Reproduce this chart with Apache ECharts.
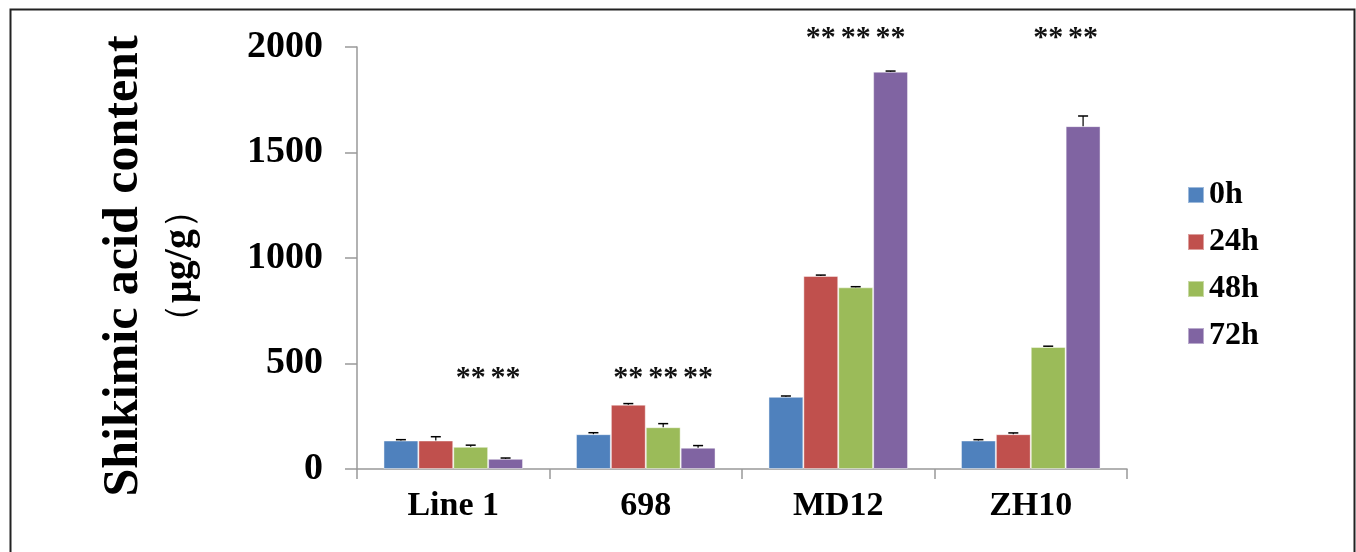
<!DOCTYPE html>
<html>
<head>
<meta charset="utf-8">
<script src="https://cdn.jsdelivr.net/npm/echarts@6/dist/echarts.min.js"></script>
<style>
html,body{margin:0;padding:0;background:#fff;}
#chart{width:1356px;height:552px;}
</style>
</head>
<body>
<div id="chart"></div>
<script>
// ---- data ----
const categories = ['Line 1', '698', 'MD12', 'ZH10'];
const seriesNames = ['0h', '24h', '48h', '72h'];
const values0h  = [135, 165, 342, 135];
const values24h = [135, 305, 915, 165];
const values48h = [105, 198, 861, 578];
const values72h = [48, 101, 1883, 1625];
const err0h  = [4, 7, 4, 4];
const err24h = [18, 5, 4, 6];
const err48h = [8, 17, 3, 4];
const err72h = [4, 10, 3, 48];
const sig0h  = ['', '', '', ''];
const sig24h = ['', '**', '**', ''];
const sig48h = ['**', '**', '**', '**'];
const sig72h = ['**', '**', '**', '**'];
const starLevel = [428, 428, 2040, 2040];
const yTicks = [0, 500, 1000, 1500, 2000];

const colors = ['#4F81BD', '#C0504D', '#9BBB59', '#8064A2'];
const allValues = [values0h, values24h, values48h, values72h];
const allErr = [err0h, err24h, err48h, err72h];
const allSig = [sig0h, sig24h, sig48h, sig72h];
const BAR_GAP = '0%', CAT_GAP = '27.5%';
const FONT = '"Liberation Serif", "Times New Roman", serif';

const errData = [], starData = [];
for (let s = 0; s < 4; s++) {
  for (let c = 0; c < categories.length; c++) {
    errData.push([c, s, allValues[s][c], allErr[s][c]]);
    if (allSig[s][c]) starData.push([c, s, starLevel[c], allSig[s][c]]);
  }
}

function layoutOf(api) {
  return api.barLayout({ barGap: BAR_GAP, barCategoryGap: CAT_GAP, count: 4 });
}

const chart = echarts.init(document.getElementById('chart'));
const barSeries = seriesNames.map((n, i) => ({
  name: n, type: 'bar', data: allValues[i],
  barGap: BAR_GAP, barCategoryGap: CAT_GAP,
  itemStyle: { color: colors[i], borderColor: 'rgba(255,255,255,0.45)', borderWidth: 1 },
  emphasis: { disabled: true }
}));

chart.setOption({
  animation: false,
  backgroundColor: '#fff',
  color: colors,
  graphic: [{
    type: 'rect', left: 8, top: 7, silent: true,
    shape: { width: 1344, height: 600 },
    style: { fill: 'none', stroke: '#222', lineWidth: 2 }
  }],
  grid: { left: 357, right: 229, top: 47, bottom: 83 },
  legend: {
    orient: 'vertical', left: 1182, top: 174,
    itemWidth: 16, itemHeight: 16, itemGap: 15, icon: 'rect',
    data: seriesNames,
    textStyle: { fontFamily: FONT, fontWeight: 'bold', fontSize: 32, color: '#000', lineHeight: 32 }
  },
  xAxis: {
    type: 'category', data: categories,
    axisLine: { lineStyle: { color: '#999', width: 1.5 } },
    axisTick: { show: true, length: 10, lineStyle: { color: '#999', width: 1.5 } },
    axisLabel: { margin: 20, fontFamily: FONT, fontWeight: 'bold', fontSize: 34, color: '#000' }
  },
  yAxis: {
    type: 'value', min: 0, max: 2000, interval: 500,
    splitLine: { show: false },
    axisLine: { show: true, lineStyle: { color: '#999', width: 1.5 } },
    axisTick: { show: true, length: 12, lineStyle: { color: '#999', width: 1.5 } },
    axisLabel: { margin: 34, fontFamily: FONT, fontWeight: 'bold', fontSize: 38, color: '#000',
      formatter: v => yTicks.indexOf(v) >= 0 ? String(v) : '' },
    name: '{a|Shikimic acid content}\n{pl|（}{b|μg/g}{pr|）}',
    nameLocation: 'middle', nameRotate: 90, nameGap: 150,
    nameTextStyle: {
      align: 'center',
      padding: [0, 16, 0, 0],
      rich: {
        a: { fontFamily: FONT, fontWeight: 'bold', fontSize: 50, color: '#000', lineHeight: 62, align: 'center' },
        b: { fontFamily: FONT, fontWeight: 'bold', fontSize: 40, color: '#000', lineHeight: 52, align: 'center' },
        pl: { fontFamily: FONT, fontWeight: 'normal', fontSize: 38, color: '#000', lineHeight: 52, padding: [0, 0, 0, 16] },
        pr: { fontFamily: FONT, fontWeight: 'normal', fontSize: 38, color: '#000', lineHeight: 52, padding: [0, 16, 0, 0] }
      }
    }
  },
  series: barSeries.concat([
    {
      type: 'custom', name: 'err', data: errData, z: 5, silent: true,
      encode: { x: 0, y: 2 },
      renderItem: function (params, api) {
        const c = api.value(0), s = api.value(1), v = api.value(2), e = api.value(3);
        const lay = layoutOf(api)[s];
        const base = api.coord([c, v]);
        const top = api.coord([c, v + e]);
        const x = base[0] + lay.offsetCenter;
        const hw = 5;
        return {
          type: 'group',
          children: [
            { type: 'line', shape: { x1: x, y1: base[1], x2: x, y2: top[1] }, style: { stroke: '#000', lineWidth: 1.2 } },
            { type: 'line', shape: { x1: x - hw, y1: top[1], x2: x + hw, y2: top[1] }, style: { stroke: '#000', lineWidth: 1.5 } }
          ]
        };
      }
    },
    {
      type: 'custom', name: 'sig', data: starData, z: 6, silent: true, clip: false,
      encode: { x: 0, y: 2 },
      renderItem: function (params, api) {
        const c = api.value(0), s = api.value(1), lvl = api.value(2);
        const lay = layoutOf(api)[s];
        const p = api.coord([c, lvl]);
        return {
          type: 'text',
          style: {
            x: p[0] + lay.offsetCenter, y: p[1],
            text: starData[params.dataIndex][3],
            align: 'center', verticalAlign: 'middle',
            font: 'bold 30px ' + FONT, fill: '#111'
          }
        };
      }
    }
  ])
});
</script>
</body>
</html>
